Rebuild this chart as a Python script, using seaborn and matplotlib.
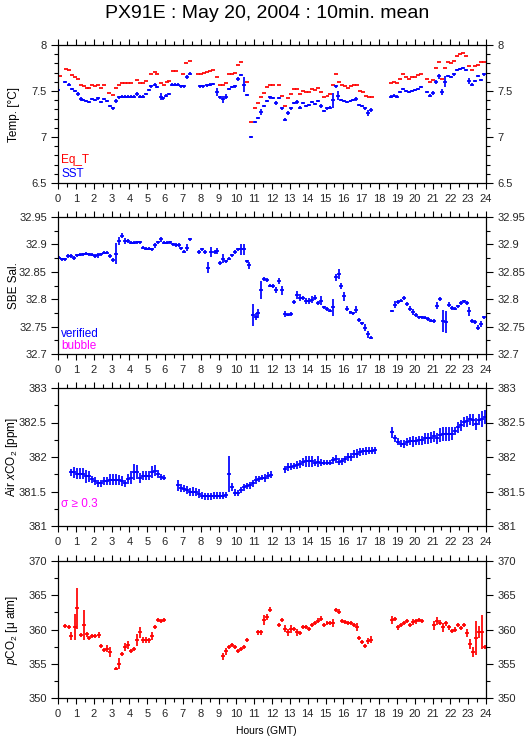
import numpy as np
import pandas as pd
import matplotlib
matplotlib.use("Agg")
import matplotlib.pyplot as plt
import seaborn as sns
from matplotlib.ticker import MultipleLocator, FuncFormatter

# ---------------- data ----------------
sst_hours = [0.00, 0.40, 0.60, 0.80, 0.95, 1.10, 1.30, 1.40, 1.57, 1.75,
             1.90, 2.10, 2.26, 2.40, 2.58, 2.77, 2.90, 3.08, 3.25, 3.42,
             3.59, 3.76, 3.93, 4.09, 4.26, 4.41, 4.60, 4.79, 4.93, 5.08,
             5.23, 5.42, 5.57, 5.76, 5.90, 6.06, 6.24, 6.39, 6.54, 6.73,
             6.92, 7.07, 7.21, 7.40, 7.96, 8.15, 8.34, 8.52, 8.71, 8.90,
             9.07, 9.23, 9.40, 9.57, 9.74, 9.91, 10.07, 10.24, 10.41, 10.58,
             10.84, 11.03, 11.21, 11.38, 11.55, 11.74, 11.89, 12.07, 12.24, 12.41,
             12.58, 12.75, 12.92, 13.09, 13.25, 13.40, 13.59, 13.74, 13.93, 14.10,
             14.25, 14.41, 14.58, 14.75, 14.92, 15.09, 15.24, 15.40, 15.57, 15.72,
             15.89, 16.06, 16.23, 16.40, 16.56, 16.73, 16.88, 17.05, 17.22, 17.39,
             17.55, 18.68, 18.84, 19.01, 19.18, 19.35, 19.52, 19.68, 19.85, 20.02,
             20.19, 20.36, 20.69, 20.86, 21.03, 21.20, 21.37, 21.54, 21.70, 21.87,
             22.04, 22.21, 22.38, 22.54, 22.71, 22.88, 23.05, 23.22, 23.39, 23.55,
             23.72, 23.89]
sst_vals = [7.51, 7.60, 7.57, 7.52, 7.50, 7.47, 7.41, 7.40, 7.39, 7.38,
            7.41, 7.40, 7.42, 7.38, 7.41, 7.39, 7.34, 7.31, 7.39, 7.43,
            7.44, 7.44, 7.44, 7.44, 7.44, 7.47, 7.44, 7.44, 7.47, 7.51,
            7.55, 7.57, 7.54, 7.44, 7.42, 7.45, 7.47, 7.57, 7.57, 7.57,
            7.55, 7.55, 7.65, 7.69, 7.55, 7.55, 7.56, 7.57, 7.58, 7.49,
            7.43, 7.41, 7.44, 7.52, 7.54, 7.55, 7.63, 7.67, 7.57, 7.46,
            7.00, 7.16, 7.21, 7.27, 7.34, 7.39, 7.43, 7.42, 7.37, 7.42,
            7.31, 7.19, 7.26, 7.31, 7.37, 7.38, 7.32, 7.37, 7.34, 7.35,
            7.38, 7.36, 7.39, 7.34, 7.28, 7.31, 7.32, 7.40, 7.55, 7.45,
            7.40, 7.39, 7.38, 7.39, 7.40, 7.41, 7.35, 7.34, 7.31, 7.26,
            7.29, 7.44, 7.45, 7.44, 7.49, 7.52, 7.50, 7.49, 7.50, 7.51,
            7.52, 7.54, 7.49, 7.45, 7.48, 7.60, 7.66, 7.49, 7.60, 7.66,
            7.65, 7.68, 7.73, 7.74, 7.75, 7.73, 7.61, 7.57, 7.61, 7.66,
            7.62, 7.68]
sst_err = [0.012, 0.012, 0.012, 0.012, 0.012, 0.02, 0.02, 0.012, 0.012, 0.012,
           0.012, 0.012, 0.02, 0.012, 0.012, 0.012, 0.012, 0.012, 0.02, 0.012,
           0.012, 0.012, 0.012, 0.012, 0.012, 0.02, 0.012, 0.012, 0.012, 0.012,
           0.02, 0.012, 0.012, 0.035, 0.02, 0.012, 0.012, 0.012, 0.012, 0.012,
           0.012, 0.012, 0.02, 0.012, 0.012, 0.012, 0.012, 0.012, 0.012, 0.04,
           0.012, 0.035, 0.03, 0.012, 0.012, 0.012, 0.02, 0.012, 0.08, 0.012,
           0.012, 0.012, 0.012, 0.035, 0.012, 0.012, 0.012, 0.012, 0.02, 0.012,
           0.012, 0.012, 0.02, 0.02, 0.012, 0.02, 0.012, 0.012, 0.012, 0.012,
           0.012, 0.012, 0.012, 0.02, 0.012, 0.012, 0.012, 0.08, 0.012, 0.045,
           0.012, 0.012, 0.012, 0.012, 0.012, 0.02, 0.012, 0.012, 0.012, 0.03,
           0.02, 0.012, 0.012, 0.012, 0.012, 0.012, 0.012, 0.012, 0.012, 0.012,
           0.012, 0.012, 0.012, 0.012, 0.02, 0.02, 0.03, 0.03, 0.06, 0.012,
           0.012, 0.012, 0.012, 0.012, 0.012, 0.012, 0.03, 0.012, 0.012, 0.012,
           0.012, 0.02]

eqt_hours = [0.11, 0.45, 0.62, 0.79, 0.95, 1.12, 1.29, 1.46, 1.61, 1.76,
             1.93, 2.09, 2.26, 2.41, 2.58, 2.88, 3.08, 3.25, 3.42, 3.59,
             3.76, 3.93, 4.09, 4.41, 4.60, 4.79, 4.93, 5.23, 5.42, 5.57,
             5.76, 5.94, 6.09, 6.24, 6.45, 6.62, 6.99, 7.18, 7.40, 7.83,
             8.00, 8.19, 8.36, 8.54, 8.69, 8.90, 9.07, 9.23, 9.40, 9.57,
             9.74, 9.91, 10.07, 10.24, 10.58, 10.84, 11.03, 11.21, 11.38, 11.55,
             11.72, 11.89, 12.07, 12.37, 12.56, 12.75, 12.92, 13.09, 13.25, 13.42,
             13.59, 13.76, 13.93, 14.10, 14.26, 14.43, 14.60, 14.77, 14.94, 15.11,
             15.27, 15.44, 15.61, 15.78, 15.95, 16.11, 16.28, 16.45, 16.62, 16.79,
             16.96, 17.12, 17.29, 17.46, 17.63, 18.68, 18.84, 19.01, 19.18, 19.35,
             19.52, 19.68, 19.85, 20.02, 20.19, 20.36, 20.69, 20.86, 21.03, 21.20,
             21.37, 21.54, 21.70, 21.87, 22.04, 22.21, 22.38, 22.54, 22.71, 22.88,
             23.05, 23.22, 23.39, 23.55, 23.72, 23.89]
eqt_vals = [7.66, 7.74, 7.73, 7.67, 7.65, 7.63, 7.56, 7.55, 7.53, 7.53,
            7.56, 7.55, 7.56, 7.53, 7.56, 7.48, 7.46, 7.53, 7.57, 7.59,
            7.59, 7.59, 7.59, 7.62, 7.59, 7.59, 7.61, 7.68, 7.71, 7.69,
            7.59, 7.56, 7.60, 7.61, 7.72, 7.72, 7.69, 7.80, 7.83, 7.69,
            7.69, 7.70, 7.71, 7.72, 7.73, 7.65, 7.57, 7.56, 7.59, 7.68,
            7.69, 7.70, 7.78, 7.81, 7.60, 7.16, 7.31, 7.37, 7.43, 7.48,
            7.54, 7.57, 7.56, 7.56, 7.45, 7.34, 7.42, 7.47, 7.52, 7.52,
            7.47, 7.50, 7.49, 7.49, 7.52, 7.51, 7.53, 7.49, 7.43, 7.45,
            7.47, 7.56, 7.69, 7.60, 7.56, 7.55, 7.53, 7.55, 7.56, 7.56,
            7.50, 7.49, 7.45, 7.43, 7.44, 7.59, 7.60, 7.59, 7.63, 7.68,
            7.65, 7.63, 7.65, 7.65, 7.67, 7.69, 7.63, 7.60, 7.62, 7.75,
            7.81, 7.63, 7.75, 7.81, 7.80, 7.83, 7.88, 7.90, 7.91, 7.88,
            7.77, 7.73, 7.77, 7.78, 7.81, 7.81]

sal_hours = [0.04, 0.22, 0.39, 0.56, 0.73, 0.90, 1.08, 1.23, 1.42, 1.57,
             1.76, 1.91, 2.07, 2.24, 2.39, 2.58, 2.73, 2.92, 3.08, 3.25,
             3.42, 3.59, 3.76, 3.93, 4.09, 4.26, 4.43, 4.60, 4.77, 4.93,
             5.10, 5.27, 5.44, 5.61, 5.78, 5.94, 6.11, 6.28, 6.45, 6.62,
             6.77, 6.92, 7.08, 7.23, 7.40, 7.93, 8.09, 8.26, 8.43, 8.60,
             8.79, 8.93, 9.08, 9.25, 9.42, 9.59, 9.76, 9.91, 10.07, 10.24,
             10.41, 10.58, 10.73, 10.92, 11.08, 11.23, 11.36, 11.53, 11.70, 11.87,
             12.04, 12.20, 12.37, 12.54, 12.71, 12.88, 13.05, 13.25, 13.42, 13.59,
             13.76, 13.93, 14.10, 14.26, 14.43, 14.60, 14.75, 14.92, 15.09, 15.25,
             15.40, 15.57, 15.74, 15.89, 16.06, 16.23, 16.40, 16.56, 16.73, 16.90,
             17.07, 17.24, 17.40, 17.57, 18.71, 18.88, 19.05, 19.22, 19.39, 19.55,
             19.72, 19.89, 20.06, 20.23, 20.40, 20.56, 20.73, 20.90, 21.07, 21.24,
             21.40, 21.57, 21.74, 21.91, 22.08, 22.25, 22.41, 22.58, 22.75, 22.92,
             23.07, 23.24, 23.40, 23.57, 23.74, 23.91]
sal_vals = [32.876, 32.873, 32.873, 32.879, 32.879, 32.875, 32.880, 32.881, 32.882, 32.883,
            32.882, 32.881, 32.879, 32.880, 32.882, 32.885, 32.885, 32.879, 32.871, 32.883,
            32.906, 32.916, 32.906, 32.906, 32.903, 32.903, 32.904, 32.904, 32.894, 32.892,
            32.892, 32.891, 32.898, 32.904, 32.909, 32.903, 32.903, 32.904, 32.900, 32.899,
            32.899, 32.893, 32.887, 32.894, 32.909, 32.886, 32.891, 32.886, 32.857, 32.886,
            32.886, 32.888, 32.866, 32.874, 32.869, 32.874, 32.880, 32.886, 32.891, 32.891,
            32.891, 32.869, 32.862, 32.771, 32.768, 32.774, 32.817, 32.837, 32.835, 32.825,
            32.824, 32.817, 32.833, 32.816, 32.773, 32.772, 32.773, 32.795, 32.808, 32.803,
            32.802, 32.797, 32.797, 32.799, 32.803, 32.793, 32.797, 32.785, 32.782, 32.779,
            32.785, 32.840, 32.846, 32.824, 32.805, 32.783, 32.776, 32.774, 32.781, 32.762,
            32.756, 32.748, 32.736, 32.730, 32.778, 32.790, 32.795, 32.797, 32.802, 32.791,
            32.783, 32.777, 32.771, 32.767, 32.767, 32.766, 32.764, 32.761, 32.760, 32.788,
            32.800, 32.760, 32.759, 32.790, 32.784, 32.783, 32.787, 32.793, 32.796, 32.793,
            32.778, 32.760, 32.758, 32.748, 32.755, 32.767]
sal_err = [0.003, 0.003, 0.003, 0.003, 0.003, 0.003, 0.003, 0.003, 0.003, 0.003,
           0.003, 0.003, 0.003, 0.004, 0.003, 0.003, 0.003, 0.003, 0.004, 0.019,
           0.008, 0.004, 0.005, 0.003, 0.003, 0.003, 0.003, 0.003, 0.003, 0.003,
           0.003, 0.003, 0.004, 0.003, 0.004, 0.003, 0.003, 0.003, 0.003, 0.003,
           0.003, 0.003, 0.003, 0.006, 0.003, 0.003, 0.003, 0.003, 0.010, 0.009,
           0.003, 0.005, 0.003, 0.008, 0.003, 0.003, 0.003, 0.003, 0.003, 0.010,
           0.010, 0.003, 0.006, 0.020, 0.006, 0.008, 0.016, 0.004, 0.003, 0.003,
           0.003, 0.006, 0.005, 0.008, 0.006, 0.003, 0.003, 0.003, 0.007, 0.006,
           0.004, 0.006, 0.006, 0.006, 0.004, 0.003, 0.008, 0.003, 0.004, 0.003,
           0.015, 0.006, 0.010, 0.006, 0.008, 0.004, 0.003, 0.003, 0.006, 0.003,
           0.003, 0.006, 0.006, 0.003, 0.002, 0.006, 0.004, 0.003, 0.003, 0.004,
           0.004, 0.006, 0.003, 0.003, 0.003, 0.003, 0.003, 0.003, 0.004, 0.006,
           0.004, 0.020, 0.020, 0.004, 0.003, 0.003, 0.003, 0.003, 0.003, 0.003,
           0.008, 0.003, 0.004, 0.005, 0.006, 0.003]

air_hours = [0.75, 0.90, 1.07, 1.23, 1.40, 1.57, 1.74, 1.91, 2.07, 2.24,
             2.41, 2.58, 2.75, 2.92, 3.08, 3.25, 3.42, 3.59, 3.76, 3.93,
             4.09, 4.26, 4.43, 4.60, 4.77, 4.93, 5.10, 5.27, 5.44, 5.61,
             5.78, 5.94, 6.73, 6.90, 7.07, 7.23, 7.40, 7.57, 7.74, 7.91,
             8.07, 8.24, 8.41, 8.58, 8.75, 8.92, 9.08, 9.25, 9.42, 9.57,
             9.74, 9.91, 10.07, 10.24, 10.41, 10.58, 10.75, 10.92, 11.08, 11.25,
             11.42, 11.59, 11.76, 11.93, 12.71, 12.88, 13.05, 13.25, 13.42, 13.59,
             13.76, 13.93, 14.10, 14.26, 14.43, 14.60, 14.77, 14.94, 15.11, 15.27,
             15.44, 15.61, 15.78, 15.95, 16.11, 16.28, 16.45, 16.62, 16.79, 16.96,
             17.12, 17.29, 17.46, 17.63, 17.80, 18.71, 18.88, 19.05, 19.22, 19.39,
             19.55, 19.72, 19.89, 20.06, 20.23, 20.40, 20.56, 20.73, 20.90, 21.07,
             21.24, 21.40, 21.57, 21.74, 21.91, 22.08, 22.25, 22.41, 22.58, 22.75,
             22.92, 23.09, 23.26, 23.42, 23.59, 23.76, 23.93]
air_vals = [381.78, 381.78, 381.76, 381.76, 381.76, 381.72, 381.72, 381.68, 381.65, 381.62,
            381.62, 381.65, 381.65, 381.67, 381.67, 381.67, 381.67, 381.65, 381.62, 381.68,
            381.70, 381.78, 381.78, 381.70, 381.73, 381.73, 381.73, 381.78, 381.80, 381.75,
            381.71, 381.70, 381.59, 381.55, 381.54, 381.52, 381.49, 381.50, 381.49, 381.47,
            381.44, 381.43, 381.43, 381.43, 381.44, 381.44, 381.44, 381.44, 381.45, 381.76,
            381.57, 381.48, 381.48, 381.52, 381.56, 381.58, 381.59, 381.62, 381.67, 381.68,
            381.70, 381.70, 381.73, 381.74, 381.82, 381.85, 381.86, 381.87, 381.88, 381.90,
            381.93, 381.94, 381.94, 381.94, 381.92, 381.93, 381.92, 381.92, 381.92, 381.92,
            381.95, 381.97, 381.93, 381.94, 381.97, 382.00, 382.00, 382.04, 382.05, 382.07,
            382.08, 382.09, 382.09, 382.09, 382.10, 382.36, 382.27, 382.22, 382.19, 382.19,
            382.22, 382.23, 382.23, 382.23, 382.24, 382.24, 382.27, 382.27, 382.28, 382.30,
            382.27, 382.32, 382.33, 382.33, 382.33, 382.34, 382.38, 382.43, 382.46, 382.51,
            382.52, 382.55, 382.54, 382.48, 382.54, 382.55, 382.58]
air_err = [0.05, 0.08, 0.08, 0.08, 0.08, 0.09, 0.08, 0.05, 0.06, 0.05,
           0.05, 0.06, 0.06, 0.08, 0.08, 0.08, 0.07, 0.07, 0.05, 0.07,
           0.09, 0.12, 0.10, 0.07, 0.07, 0.06, 0.07, 0.09, 0.08, 0.06,
           0.05, 0.04, 0.08, 0.06, 0.05, 0.06, 0.06, 0.06, 0.06, 0.06,
           0.05, 0.05, 0.05, 0.05, 0.05, 0.05, 0.05, 0.05, 0.05, 0.26,
           0.06, 0.05, 0.04, 0.04, 0.05, 0.04, 0.05, 0.05, 0.06, 0.04,
           0.04, 0.06, 0.05, 0.05, 0.05, 0.06, 0.05, 0.05, 0.06, 0.06,
           0.06, 0.08, 0.08, 0.08, 0.05, 0.08, 0.05, 0.04, 0.04, 0.03,
           0.05, 0.06, 0.05, 0.05, 0.05, 0.06, 0.06, 0.06, 0.06, 0.06,
           0.05, 0.06, 0.05, 0.05, 0.05, 0.08, 0.05, 0.05, 0.05, 0.06,
           0.06, 0.06, 0.08, 0.06, 0.06, 0.06, 0.08, 0.08, 0.08, 0.08,
           0.08, 0.10, 0.10, 0.10, 0.10, 0.10, 0.06, 0.08, 0.08, 0.07,
           0.08, 0.08, 0.09, 0.09, 0.08, 0.11, 0.10]

pco2_hours = [0.41, 0.60, 0.75, 0.93, 1.08, 1.27, 1.44, 1.61, 1.76, 1.93,
              2.09, 2.28, 2.41, 2.58, 2.75, 2.92, 3.25, 3.42, 3.59, 3.76,
              3.93, 4.09, 4.26, 4.43, 4.60, 4.77, 4.93, 5.10, 5.27, 5.44,
              5.61, 5.78, 5.94, 9.23, 9.40, 9.57, 9.74, 9.91, 10.07, 10.24,
              10.41, 10.58, 11.21, 11.38, 11.55, 11.72, 11.89, 12.37, 12.54, 12.71,
              12.88, 13.09, 13.25, 13.42, 13.59, 13.76, 13.93, 14.10, 14.26, 14.43,
              14.60, 14.77, 14.94, 15.11, 15.27, 15.40, 15.57, 15.74, 15.91, 16.08,
              16.25, 16.41, 16.58, 16.75, 16.90, 17.07, 17.24, 17.40, 17.57, 18.71,
              18.88, 19.05, 19.22, 19.39, 19.55, 19.72, 19.89, 20.06, 20.23, 20.40,
              21.07, 21.24, 21.40, 21.57, 21.74, 21.91, 22.08, 22.25, 22.41, 22.58,
              22.75, 22.92, 23.09, 23.26, 23.42, 23.59, 23.76, 23.93]
pco2_vals = [360.5, 360.4, 359.1, 360.4, 363.1, 359.2, 360.6, 359.3, 358.8, 359.0,
             359.1, 359.2, 357.6, 357.0, 357.2, 356.7, 354.3, 355.0, 356.4, 357.4,
             357.7, 356.9, 357.2, 358.5, 359.6, 358.5, 358.5, 358.4, 359.1, 360.4,
             361.4, 361.3, 361.4, 356.1, 356.8, 357.5, 357.7, 357.5, 356.8, 357.2,
             357.4, 358.5, 359.6, 359.6, 361.4, 361.8, 362.9, 360.6, 361.4, 360.1,
             359.6, 360.1, 360.1, 359.6, 359.5, 360.4, 360.4, 360.1, 360.7, 361.0,
             361.3, 361.6, 360.6, 360.9, 360.9, 361.0, 362.9, 362.6, 361.3, 361.1,
             361.0, 360.9, 360.7, 360.4, 358.8, 358.2, 357.6, 358.3, 358.5, 361.4,
             361.5, 360.3, 360.6, 360.9, 361.2, 360.6, 361.1, 361.2, 361.4, 361.3,
             360.6, 361.2, 361.0, 360.3, 360.9, 360.3, 359.8, 360.0, 360.7, 360.2,
             360.6, 359.5, 357.9, 356.7, 358.8, 359.6, 359.6, 357.4]
pco2_err = [0.3, 0.3, 0.6, 1.9, 3.0, 0.3, 2.2, 0.4, 0.3, 0.3,
            0.3, 0.5, 0.3, 0.3, 0.5, 0.7, 0.2, 0.8, 0.3, 0.6,
            0.6, 0.3, 0.3, 0.9, 0.8, 0.4, 0.4, 0.3, 0.6, 0.3,
            0.3, 0.3, 0.3, 0.5, 0.5, 0.3, 0.3, 0.3, 0.3, 0.3,
            0.3, 0.3, 0.4, 0.4, 0.7, 0.4, 0.4, 0.3, 0.3, 0.5,
            0.5, 0.6, 0.3, 0.5, 0.3, 0.3, 0.3, 0.3, 0.3, 0.3,
            0.4, 0.4, 0.3, 0.3, 0.3, 0.6, 0.3, 0.4, 0.3, 0.3,
            0.3, 0.3, 0.3, 0.6, 0.3, 0.3, 0.3, 0.4, 0.5, 0.6,
            0.3, 0.3, 0.3, 0.3, 0.3, 0.3, 0.4, 0.4, 0.3, 0.3,
            0.6, 0.6, 0.4, 0.6, 0.4, 0.3, 0.3, 0.4, 0.3, 0.3,
            0.3, 0.6, 0.7, 0.7, 2.5, 0.9, 2.5, 0.3]

hour_ticks = list(range(0, 25))

# ---------------- style ----------------
sns.set_theme(style="ticks")
FONT = ['Liberation Sans', 'DejaVu Sans']
plt.rcParams['font.family'] = FONT
plt.rcParams['mathtext.fontset'] = 'custom'
plt.rcParams['mathtext.rm'] = 'Liberation Sans'
plt.rcParams['mathtext.it'] = 'Liberation Sans:italic'

BLUE = (0, 0, 1)
RED = (1, 0, 0)
MAG = (1, 0, 1)
HALF_W = 0.11  # half of 10-min bar in hours
LW = 1.25

fig = plt.figure(figsize=(5.29, 7.39), dpi=100)
W, H = 529, 739
left = 58 / W
width = 428 / W


def make_ax(top_px, bot_px):
    return fig.add_axes([left, 1 - bot_px / H, width, (bot_px - top_px) / H])


axes = [make_ax(45, 183), make_ax(217, 354), make_ax(388, 526), make_ax(561, 698)]
fmt = FuncFormatter(lambda v, p: f"{v:g}")
ylims = [(6.5, 8), (32.7, 32.95), (381, 383), (350, 370)]
ymaj = [0.5, 0.05, 0.5, 5]
ymin = [0.1, 0.025, 0.25, 2.5]
ylabels = ["Temp. [°C]", "SBE Sal.", r"Air $x$CO$_2$ [ppm]", r"$p$CO$_2$ [μ atm]"]

for ax, yl, mj, mn, lab in zip(axes, ylims, ymaj, ymin, ylabels):
    ax.set_xlim(0, 24)
    ax.set_ylim(*yl)
    ax.set_xticks(hour_ticks)
    ax.xaxis.set_minor_locator(MultipleLocator(0.5))
    ax.yaxis.set_major_locator(MultipleLocator(mj))
    ax.yaxis.set_minor_locator(MultipleLocator(mn))
    ax.yaxis.set_major_formatter(fmt)
    ax.tick_params(axis='x', which='both', direction='out', top=True, bottom=True,
                   labelbottom=True, labelsize=8, pad=4, width=0.8, color='black')
    ax.tick_params(axis='x', which='major', length=4)
    ax.tick_params(axis='x', which='minor', length=3)
    ax.tick_params(axis='y', which='both', direction='out', left=True, right=True,
                   labelleft=True, labelright=True, labelsize=8, pad=3, width=0.8,
                   color='black')
    ax.tick_params(axis='y', which='major', length=5)
    ax.tick_params(axis='y', which='minor', length=3)
    for s in ax.spines.values():
        s.set_visible(True)
        s.set_color('black')
        s.set_linewidth(0.9)
    ax.set_facecolor('white')
    ax.set_ylabel(lab, fontsize=8.5, color='black')
    ax.yaxis.set_label_coords(-0.089, 0.5)


def draw(ax, hours, vals, err, color):
    df = pd.DataFrame({"hour": hours, "val": vals})
    if err is not None:
        df["err"] = err
    ax.errorbar(df["hour"], df["val"], xerr=HALF_W,
                yerr=None if err is None else df["err"],
                fmt='none', ecolor=color, elinewidth=LW, capsize=0)


draw(axes[0], eqt_hours, eqt_vals, None, RED)
draw(axes[0], sst_hours, sst_vals, sst_err, BLUE)
draw(axes[1], sal_hours, sal_vals, sal_err, BLUE)
draw(axes[2], air_hours, air_vals, air_err, BLUE)
draw(axes[3], pco2_hours, pco2_vals, pco2_err, RED)

# in-panel legends
kw = dict(fontsize=8.5, va='baseline')
axes[0].text(0.008, 0.147, "Eq_T", color=RED, transform=axes[0].transAxes, **kw)
axes[0].text(0.008, 0.043, "SST", color=BLUE, transform=axes[0].transAxes, **kw)
axes[1].text(0.008, 0.126, "verified", color=BLUE, transform=axes[1].transAxes, **kw)
axes[1].text(0.008, 0.034, "bubble", color=MAG, transform=axes[1].transAxes, **kw)
axes[2].text(0.008, 0.136, "σ ≥ 0.3", color=MAG, transform=axes[2].transAxes, **kw)

fig.text(267 / W, 1 - 14 / H, "PX91E : May 20, 2004 : 10min. mean", ha='center', va='center',
         fontsize=14, color='black')
fig.text(266 / W, 1 - 731 / H, "Hours (GMT)", ha='center', va='center', fontsize=7.5,
         color='black')

fig.savefig("out.png", dpi=100, facecolor='white')
